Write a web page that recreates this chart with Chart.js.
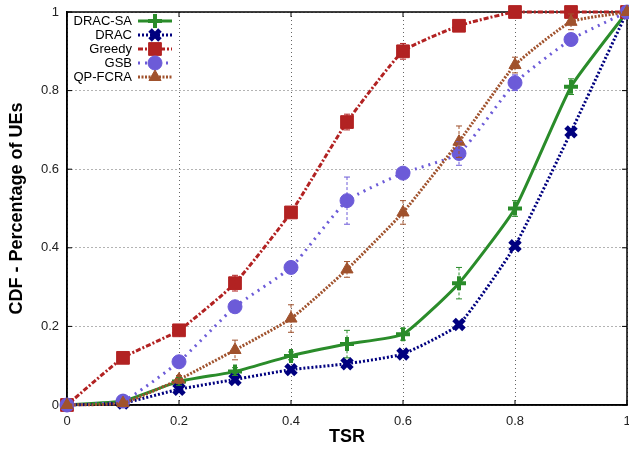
<!DOCTYPE html>
<html>
<head>
<meta charset="utf-8">
<script src="https://cdn.jsdelivr.net/npm/chart.js@4.4.1/dist/chart.umd.min.js"></script>
<style>
  html, body { margin: 0; padding: 0; background: #fff; overflow: hidden; }
  #wrap { width: 629px; height: 451px; overflow: hidden; }
</style>
</head>
<body>
<div id="wrap"><canvas id="cdf" width="639" height="451"></canvas></div>
<script>
// TSR sample points
const tsr = [0, 0.1, 0.2, 0.3, 0.4, 0.5, 0.6, 0.7, 0.8, 0.9, 1.0];

// CDF values per scheme
const dracSa = [0, 0.01, 0.06, 0.085, 0.125, 0.155, 0.18, 0.31, 0.50, 0.81, 1.0];
const drac   = [0, 0.005, 0.04, 0.065, 0.09, 0.105, 0.13, 0.205, 0.405, 0.695, 1.0];
const greedy = [0, 0.12, 0.19, 0.31, 0.49, 0.72, 0.90, 0.965, 1.0, 1.0, 1.0];
const gsb    = [0, 0.01, 0.11, 0.25, 0.35, 0.52, 0.59, 0.64, 0.82, 0.93, 1.0];
const qpFcra = [0, 0.005, 0.065, 0.14, 0.22, 0.345, 0.49, 0.67, 0.865, 0.975, 1.0];

// error bar half-widths
const dracSaErr = [0, 0, 0.01, 0.01, 0.01, 0.035, 0.015, 0.04, 0.02, 0.02, 0];
const dracErr   = [0, 0, 0, 0, 0, 0, 0, 0, 0, 0, 0];
const greedyErr = [0, 0, 0, 0.02, 0, 0.02, 0.02, 0, 0, 0, 0];
const gsbErr    = [0, 0, 0, 0, 0, 0.06, 0, 0.03, 0.02, 0.01, 0];
const qpFcraErr = [0, 0, 0.01, 0.025, 0.035, 0.02, 0.03, 0.04, 0.02, 0.02, 0];

const xTicks = [0, 0.2, 0.4, 0.6, 0.8, 1];
const yTicks = [0, 0.2, 0.4, 0.6, 0.8, 1];

const FONT = '"Liberation Sans", Arial, sans-serif';
const pts = (ys) => tsr.map((x, i) => ({ x: x, y: ys[i] }));

const series = [
  { label: 'DRAC-SA', data: dracSa, err: dracSaErr, color: '#2a8c2a', dash: [], style: 'cross', r: 7, bw: 4 },
  { label: 'DRAC', data: drac, err: dracErr, color: '#00007f', dash: [2, 2], style: 'crossRot', r: 7, bw: 5 },
  { label: 'Greedy', data: greedy, err: greedyErr, color: '#b22222', dash: [5, 2, 2, 2], style: 'rect', r: 9, bw: 1 },
  { label: 'GSB', data: gsb, err: gsbErr, color: '#6c5bd8', dash: [2, 5], style: 'circle', r: 7, bw: 1 },
  { label: 'QP-FCRA', data: qpFcra, err: qpFcraErr, color: '#a0522d', dash: [2, 1.5], style: 'triangle', r: 7, bw: 1 }
];

// error bars + legend, drawn by hand the way gnuplot does
const extras = {
  id: 'extras',
  afterDatasetsDraw(chart) {
    const ctx = chart.ctx;
    const xs = chart.scales.x, ys = chart.scales.y;
    ctx.save();
    series.forEach((s) => {
      ctx.strokeStyle = s.color;
      ctx.lineWidth = 1;
      s.err.forEach((e, i) => {
        if (!e) return;
        const px = xs.getPixelForValue(tsr[i]);
        const y1 = ys.getPixelForValue(Math.min(1, s.data[i] + e));
        const y2 = ys.getPixelForValue(s.data[i] - e);
        ctx.setLineDash([3, 2]);
        ctx.beginPath();
        ctx.moveTo(px, y1); ctx.lineTo(px, y2);
        ctx.stroke();
        ctx.setLineDash([]);
        ctx.beginPath();
        ctx.moveTo(px - 3, y1); ctx.lineTo(px + 3, y1);
        ctx.moveTo(px - 3, y2); ctx.lineTo(px + 3, y2);
        ctx.stroke();
      });
    });
    ctx.restore();

    // legend
    const a = chart.chartArea;
    ctx.save();
    ctx.fillStyle = '#fff';
    ctx.fillRect(a.left + 1, a.top + 1, 110, 72);
    ctx.font = '13px ' + FONT;
    ctx.textAlign = 'right';
    ctx.textBaseline = 'middle';
    series.forEach((s, i) => {
      const y = a.top + 9 + i * 14;
      ctx.fillStyle = '#000';
      ctx.fillText(s.label, 132, y);
      ctx.strokeStyle = s.color;
      ctx.lineWidth = 3;
      ctx.setLineDash(s.dash);
      ctx.beginPath();
      ctx.moveTo(138, y); ctx.lineTo(172, y);
      ctx.stroke();
      ctx.setLineDash([]);
      ctx.fillStyle = s.color;
      ctx.lineWidth = s.bw;
      Chart.helpers.drawPoint(ctx, {
        pointStyle: s.style, radius: s.r, borderWidth: s.bw, rotation: 0
      }, 155, y);
    });
    ctx.restore();
  }
};

// black box round the plot with small inward tick marks
const frame = {
  id: 'frame',
  beforeDatasetsDraw(chart) {
    const a = chart.chartArea, ctx = chart.ctx;
    const xs = chart.scales.x, ys = chart.scales.y;
    ctx.save();
    ctx.strokeStyle = '#000';
    ctx.lineWidth = 1.5;
    ctx.strokeRect(a.left, a.top, a.right - a.left, a.bottom - a.top);
    ctx.lineWidth = 1;
    ctx.beginPath();
    xTicks.forEach((v) => {
      const px = xs.getPixelForValue(v);
      ctx.moveTo(px, a.bottom); ctx.lineTo(px, a.bottom - 5);
      ctx.moveTo(px, a.top); ctx.lineTo(px, a.top + 5);
    });
    yTicks.forEach((v) => {
      const py = ys.getPixelForValue(v);
      ctx.moveTo(a.left, py); ctx.lineTo(a.left + 5, py);
      ctx.moveTo(a.right, py); ctx.lineTo(a.right - 5, py);
    });
    ctx.stroke();
    ctx.restore();
  }
};

new Chart(document.getElementById('cdf'), {
  type: 'line',
  data: {
    datasets: series.map((s) => ({
      label: s.label,
      data: pts(s.data),
      borderColor: s.color,
      backgroundColor: s.color,
      borderWidth: 3,
      borderDash: s.dash,
      tension: 0.15,
      pointStyle: s.style,
      pointRadius: s.r,
      pointBorderWidth: s.bw,
      pointBackgroundColor: s.color,
      pointBorderColor: s.color,
      clip: false
    })).reverse()
  },
  options: {
    responsive: false,
    animation: false,
    layout: { padding: { top: 8, right: -10, left: 0, bottom: 0 } },
    plugins: { legend: { display: false }, tooltip: { enabled: false } },
    scales: {
      x: {
        type: 'linear', min: 0, max: 1,
        afterBuildTicks: (sc) => { sc.ticks = xTicks.map((v) => ({ value: v })); },
        afterFit: (sc) => { sc.height = 46; sc.paddingLeft = 0; sc.paddingRight = 0; },
        ticks: { padding: 9, color: '#222', font: { family: FONT, size: 13 }, callback: (v) => String(v) },
        grid: { color: '#666', lineWidth: 1, drawTicks: false },
        border: { color: '#000', width: 1.5, dash: [1, 3] },
        title: { display: true, text: 'TSR', color: '#000', padding: { top: 0, bottom: 3 },
                 font: { family: FONT, size: 18, weight: 'bold' } }
      },
      y: {
        type: 'linear', min: 0, max: 1,
        afterBuildTicks: (sc) => { sc.ticks = yTicks.map((v) => ({ value: v })); },
        afterFit: (sc) => { sc.width = 67; sc.paddingTop = 0; sc.paddingBottom = 0; },
        ticks: { padding: 8, color: '#222', font: { family: FONT, size: 13 }, callback: (v) => String(v) },
        grid: { color: '#666', lineWidth: 1, drawTicks: false },
        border: { color: '#000', width: 1.5, dash: [1, 3] },
        title: { display: true, text: 'CDF - Percentage of UEs', color: '#000', padding: { top: 6, bottom: 0 },
                 font: { family: FONT, size: 18, weight: 'bold' } }
      }
    }
  },
  plugins: [frame, extras]
});
</script>
</body>
</html>
